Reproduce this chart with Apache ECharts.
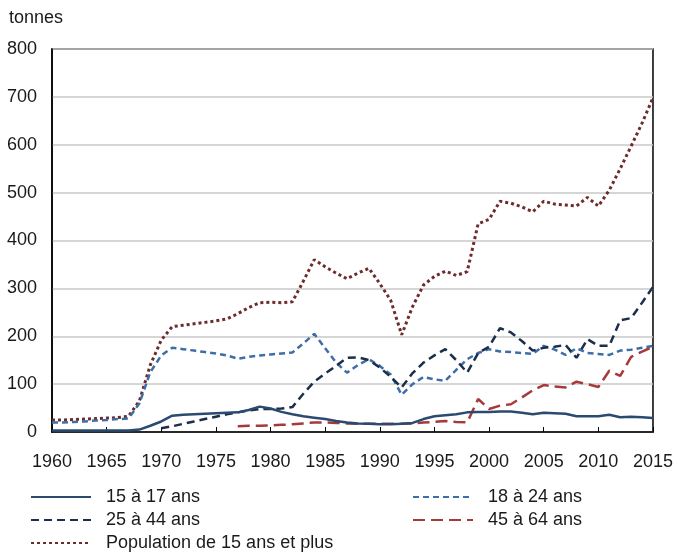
<!DOCTYPE html>
<html>
<head>
<meta charset="utf-8">
<script src="https://cdn.jsdelivr.net/npm/echarts@6/dist/echarts.min.js"></script>
<style>
  html, body { margin: 0; padding: 0; background: #ffffff; }
  #chart { width: 676px; height: 554px; }
</style>
</head>
<body>
<div id="chart"></div>
<script>
// Years 1960–2015
const years = [];
for (let y = 1960; y <= 2015; y++) years.push(y);

const xTicks = [1960, 1965, 1970, 1975, 1980, 1985, 1990, 1995, 2000, 2005, 2010, 2015];
const yTicks = [0, 100, 200, 300, 400, 500, 600, 700, 800];

// tonnes, one value per year (null = no data)
const age15to17 = [
  3, 3, 3, 3, 3, 3, 3, 3, 5, 13,
  22, 34, 36, 37, 38, 39, 40, 41, 46, 53,
  49, 42, 37, 33, 30, 27, 23, 20, 18, 17,
  16, 16, 17, 19, 27, 33, 35, 37, 41, 42,
  42, 43, 43, 40, 37, 40, 39, 38, 33, 33,
  33, 36, 31, 32, 31, 29
];
const age18to24 = [
  20, 20, 21, 22, 24, 25, 27, 28, 60, 125,
  160, 176, 173, 170, 167, 164, 160, 153, 157, 160,
  162, 164, 166, 185, 205, 175, 145, 124, 140, 152,
  138, 120, 78, 100, 115, 110, 107, 130, 152, 165,
  173, 168, 167, 165, 163, 180, 172, 161, 175, 165,
  163, 161, 170, 172, 176, 180
];
const age25to44 = [
  null, null, null, null, null, null, null, null, null, null,
  8, 12, 17, 22, 27, 32, 37, 41, 45, 48,
  48, 49, 52, 80, 105, 122, 138, 155, 156, 150,
  135, 115, 93, 123, 145, 160, 173, 150, 124, 165,
  178, 217, 208, 190, 170, 176, 178, 182, 155, 194,
  180, 180, 233, 238, 270, 303
];
const age45to64 = [
  null, null, null, null, null, null, null, null, null, null,
  null, null, null, null, null, null, null, 12, 13, 13,
  14, 15, 16, 18, 20, 20, 19, 18, 17, 17,
  17, 17, 17, 18, 20, 21, 23, 21, 20, 69,
  48, 55, 58, 72, 87, 98, 95, 93, 105, 100,
  94, 128, 117, 157, 168, 178
];
const population15plus = [
  25, 25, 26, 27, 28, 29, 30, 33, 65, 140,
  192, 220, 223, 226, 229, 232, 236, 247, 260, 270,
  271, 270, 272, 315, 360, 345, 332, 320, 332, 342,
  310, 275, 203, 262, 307, 325, 336, 327, 335, 435,
  444, 482, 478, 470, 460, 482, 476, 474, 472, 490,
  472, 505, 550, 597, 645, 698
];

const seriesNames = [
  '15 à 17 ans',
  '18 à 24 ans',
  '25 à 44 ans',
  '45 à 64 ans',
  'Population de 15 ans et plus'
];

const FONT = '"Liberation Sans", Arial, sans-serif';
const TEXT = '#1a1a1a';
const pairs = vals => years.map((y, i) => [y, vals[i]]);

const chart = echarts.init(document.getElementById('chart'), null, { renderer: 'canvas' });

const lineSeries = (name, vals, color, width, dash, z) => ({
  name: name,
  type: 'line',
  data: pairs(vals),
  showSymbol: false,
  symbol: 'none',
  connectNulls: false,
  z: z,
  lineStyle: { color: color, width: width, type: dash },
  itemStyle: { color: color },
  emphasis: { disabled: true }
});

// one legend block per entry, laid out in two columns
const legendItem = (name, left, top) => ({
  data: [name],
  left: left,
  top: top,
  padding: 0,
  itemWidth: 60,
  itemHeight: 14,
  itemStyle: { opacity: 0 },
  textStyle: { fontFamily: FONT, fontSize: 18, color: TEXT, padding: [0, 0, 0, 10] },
  selectedMode: false
});

chart.setOption({
  animation: false,
  backgroundColor: '#ffffff',
  textStyle: { fontFamily: FONT },
  title: {
    text: 'tonnes',
    left: 4,
    top: 4,
    textStyle: { fontFamily: FONT, fontSize: 18, fontWeight: 'normal', color: TEXT }
  },
  grid: {
    left: 52, right: 23, top: 49, bottom: 122,
    show: true, borderColor: '#000000', borderWidth: 1.5, backgroundColor: 'transparent'
  },
  xAxis: {
    type: 'value',
    min: 1960, max: 2015, interval: 5,
    axisLine: { show: true, lineStyle: { color: '#000000', width: 1.5 } },
    axisTick: { show: true, inside: true, length: 5, lineStyle: { color: '#000000', width: 1 } },
    splitLine: { show: false },
    axisLabel: {
      margin: 21,
      fontFamily: FONT, fontSize: 18, color: TEXT,
      formatter: v => (xTicks.includes(v) ? String(v) : '')
    }
  },
  yAxis: {
    type: 'value',
    min: 0, max: 800, interval: 100,
    axisLine: { show: true, lineStyle: { color: '#000000', width: 1.5 } },
    axisTick: { show: false },
    splitLine: { show: true, lineStyle: { color: '#c8c8c8', width: 1.5 } },
    axisLabel: {
      margin: 15,
      fontFamily: FONT, fontSize: 18, color: TEXT,
      formatter: v => (yTicks.includes(v) ? String(v) : '')
    }
  },
  legend: [
    legendItem(seriesNames[0], 30, 488),
    legendItem(seriesNames[2], 30, 511),
    legendItem(seriesNames[4], 30, 534),
    legendItem(seriesNames[1], 412, 488),
    legendItem(seriesNames[3], 412, 511)
  ],
  series: [
    lineSeries(seriesNames[4], population15plus, '#6e2b2b', 3, [3, 3], 1),
    lineSeries(seriesNames[1], age18to24, '#3d6ea8', 2.5, [6, 4], 2),
    lineSeries(seriesNames[2], age25to44, '#1b2f4b', 2.5, [8, 5], 3),
    lineSeries(seriesNames[3], age45to64, '#a63a3a', 2.5, [12, 6], 4),
    lineSeries(seriesNames[0], age15to17, '#2b4a70', 2.5, 'solid', 5)
  ]
});
</script>
</body>
</html>
